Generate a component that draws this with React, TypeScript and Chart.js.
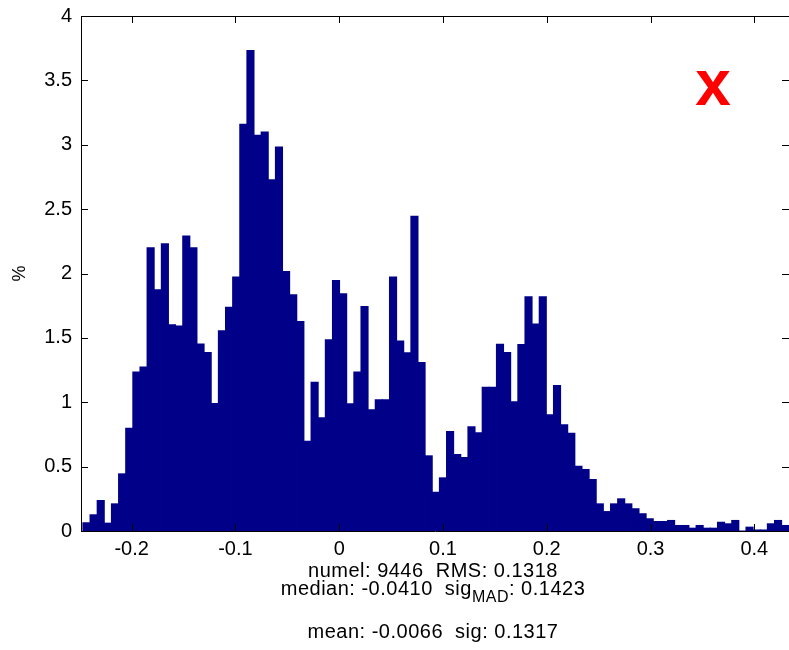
import React, { useEffect, useRef } from 'react';
import { Chart, registerables } from 'chart.js';

Chart.register(...registerables);

// Histogram bins (left edge of first bin and bin width, in data units)
const BIN_START = -0.24697;
const BIN_WIDTH = 0.00687;

// Bar heights in percent, one per bin
const PERCENT = [
  0.064, 0.126, 0.237, 0.061, 0.211, 0.444, 0.799, 1.234, 1.273, 2.2,
  1.874, 2.232, 1.602, 1.593, 2.292, 2.2, 1.452, 1.387, 0.991, 1.556,
  1.737, 1.972, 3.159, 3.733, 3.073, 3.099, 2.729, 2.982, 2.016, 1.834,
  1.628, 0.697, 1.156, 0.879, 1.486, 1.946, 1.843, 0.988, 1.234, 1.744,
  0.942, 1.019, 1.019, 1.972, 1.475, 1.385, 2.444, 1.309, 0.584, 0.301,
  0.413, 0.773, 0.594, 0.571, 0.81, 0.763, 1.117, 1.117, 1.451, 1.387,
  1.004, 1.449, 1.82, 1.607, 1.82, 0.903, 1.131, 0.825, 0.76, 0.503,
  0.478, 0.4, 0.211, 0.151, 0.211, 0.25, 0.211, 0.173, 0.134, 0.095,
  0.074, 0.074, 0.082, 0.043, 0.043, 0.022, 0.043, 0.022, 0.022, 0.068,
  0.056, 0.082, 0, 0.03, 0.008, 0.008, 0.056, 0.082, 0.043,
];

const X_MIN = -0.2488;
const X_MAX = 0.4334;
const X_TICKS = [-0.2, -0.1, 0, 0.1, 0.2, 0.3, 0.4];
const Y_TICKS = [0, 0.5, 1, 1.5, 2, 2.5, 3, 3.5, 4];

const Y_TITLE = '%';
const STATS_LINE1 = 'numel: 9446  RMS: 0.1318';
const STATS_LINE2 = ['median: -0.0410  sig', 'MAD', ': 0.1423'];
const STATS_LINE3 = 'mean: -0.0066  sig: 0.1317';
const MARK = 'x';

const FONT = '"Liberation Sans", Arial, sans-serif';
const BAR_COLOR = 'rgb(0,0,136)';

const decorPlugin = {
  id: 'decor',
  afterDraw(chart: any) {
    const { ctx, chartArea } = chart;
    const xs = chart.scales.x;
    const ys = chart.scales.y;
    const L = chartArea.left, R = chartArea.right, T = chartArea.top, B = chartArea.bottom;
    ctx.save();
    ctx.strokeStyle = '#000';
    ctx.lineWidth = 1;
    ctx.beginPath();
    ctx.moveTo(L, Math.round(T) + 0.5);
    ctx.lineTo(R, Math.round(T) + 0.5);
    const tl = 7;
    X_TICKS.forEach((v) => {
      const px = Math.round(xs.getPixelForValue(v)) + 0.5;
      ctx.moveTo(px, B);
      ctx.lineTo(px, B - tl);
      ctx.moveTo(px, T);
      ctx.lineTo(px, T + tl);
    });
    Y_TICKS.forEach((v) => {
      const py = Math.round(ys.getPixelForValue(v)) + 0.5;
      ctx.moveTo(L, py);
      ctx.lineTo(L + tl, py);
      ctx.moveTo(R, py);
      ctx.lineTo(R - tl, py);
    });
    ctx.stroke();

    ctx.fillStyle = '#000';
    ctx.textBaseline = 'alphabetic';
    try { (ctx as any).letterSpacing = '0.5px'; } catch (e) {}
    const cx = 433;
    const mainFont = '20px ' + FONT;
    const subFont = '16px ' + FONT;
    ctx.font = mainFont;
    ctx.textAlign = 'center';
    ctx.fillText(STATS_LINE1, cx, 577);
    ctx.fillText(STATS_LINE3, cx, 638);

    ctx.font = mainFont;
    const w1 = ctx.measureText(STATS_LINE2[0]).width;
    const w3 = ctx.measureText(STATS_LINE2[2]).width;
    ctx.font = subFont;
    const w2 = ctx.measureText(STATS_LINE2[1]).width;
    const total = w1 + w2 + w3;
    let x0 = cx - total / 2;
    ctx.textAlign = 'left';
    ctx.font = mainFont;
    ctx.fillText(STATS_LINE2[0], x0, 595);
    x0 += w1;
    ctx.font = subFont;
    ctx.fillText(STATS_LINE2[1], x0, 602);
    x0 += w2;
    ctx.font = mainFont;
    ctx.fillText(STATS_LINE2[2], x0, 595);

    try { (ctx as any).letterSpacing = '0px'; } catch (e) {}
    ctx.fillStyle = '#ff0000';
    ctx.textAlign = 'center';
    ctx.font = 'bold 64px ' + FONT;
    ctx.fillText(MARK, 713, 105);
    ctx.restore();
  },
};

export default function App() {
  const ref = useRef<HTMLCanvasElement | null>(null);

  useEffect(() => {
    const canvas = ref.current;
    if (!canvas) return;
    const data = PERCENT.map((v, i) => ({ x: BIN_START + BIN_WIDTH * (i + 0.5), y: v }));
    const chart = new Chart(canvas, {
      type: 'bar',
      data: {
        datasets: [
          {
            data,
            backgroundColor: BAR_COLOR,
            borderWidth: 0,
            inflateAmount: 0.5,
            barPercentage: 1,
            categoryPercentage: 1,
          },
        ],
      },
      options: {
        animation: false,
        responsive: false,
        devicePixelRatio: 1,
        layout: { padding: { top: 16, right: 0, left: 0, bottom: 0 } },
        plugins: { legend: { display: false }, tooltip: { enabled: false }, title: { display: false } },
        scales: {
          x: {
            type: 'linear',
            min: X_MIN,
            max: X_MAX,
            offset: false,
            grid: { display: false, drawTicks: false },
            border: { display: true, color: '#000', width: 1 },
            ticks: {
              color: '#000',
              font: { family: FONT, size: 20 },
              padding: 6,
              maxRotation: 0,
              autoSkip: false,
              callback: (v: any) => (v === 0 ? '0' : Number(v).toFixed(1)),
            },
            afterBuildTicks: (s: any) => {
              s.ticks = X_TICKS.map((v) => ({ value: v }));
            },
            afterFit: (s: any) => {
              s.height = 119;
              s.paddingLeft = 0;
              s.paddingRight = 0;
            },
          },
          y: {
            type: 'linear',
            min: 0,
            max: 4,
            grid: { display: false, drawTicks: false },
            border: { display: true, color: '#000', width: 1 },
            title: {
              display: true,
              text: Y_TITLE,
              color: '#000',
              font: { family: FONT, size: 18 },
              padding: { top: 9, bottom: 0 },
            },
            ticks: {
              color: '#000',
              font: { family: FONT, size: 20 },
              padding: 9,
              autoSkip: false,
              callback: (v: any) => String(v),
            },
            afterBuildTicks: (s: any) => {
              s.ticks = Y_TICKS.map((v) => ({ value: v }));
            },
            afterFit: (s: any) => {
              s.width = 81;
              s.paddingTop = 0;
              s.paddingBottom = 0;
            },
          },
        },
      },
      plugins: [decorPlugin],
    });
    return () => chart.destroy();
  }, []);

  return (
    <div style={{ position: 'fixed', left: 0, top: 0, width: 789, height: 650, background: '#fff', overflow: 'hidden' }}>
      <canvas ref={ref} width={789} height={650} style={{ display: 'block' }} />
    </div>
  );
}
